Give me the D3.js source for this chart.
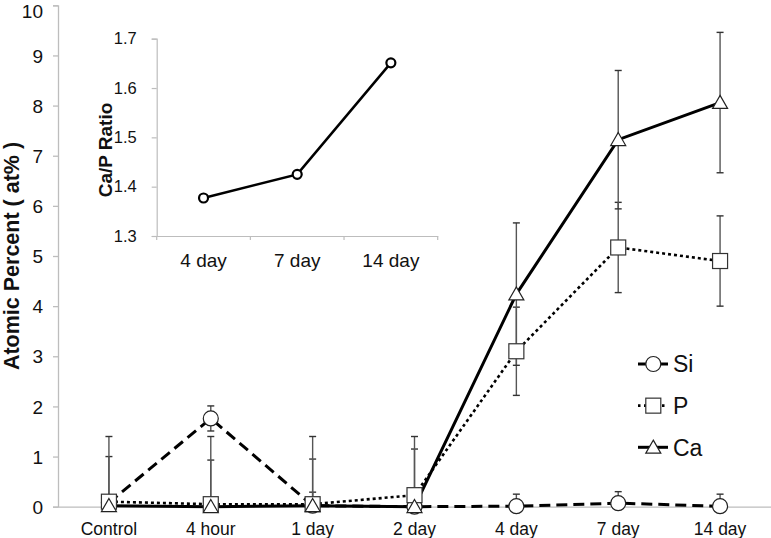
<!DOCTYPE html>
<html>
<head>
<meta charset="utf-8">
<script src="https://cdn.jsdelivr.net/npm/d3@7"></script>
<style>
  html, body { margin: 0; padding: 0; background: #fff; }
  svg { display: block; font-family: "Liberation Sans", Arial, sans-serif; }
</style>
</head>
<body>
<svg id="chart" width="771" height="538"></svg>
<script>
// ---------- data ----------
const categories = ["Control", "4 hour", "1 day", "2 day", "4 day", "7 day", "14 day"];
const siValues = [0.08, 1.76, 0.02, 0.0, 0.01, 0.07, 0.01];
const siErrors = [0.1, 0.25, 0.27, 0.1, 0.24, 0.23, 0.24];
const pValues  = [0.1, 0.05, 0.05, 0.23, 3.1, 5.17, 4.9];
const pErrors  = [0.9, 0.88, 0.9, 0.92, 0.88, 0.9, 0.9];
const caValues = [0.02, 0.0, 0.02, 0.0, 4.24, 7.32, 8.06];
const caErrors = [1.38, 1.4, 1.38, 1.4, 1.42, 1.38, 1.4];
const yTicks = [0, 1, 2, 3, 4, 5, 6, 7, 8, 9, 10];
const seriesNames = ["Si", "P", "Ca"];

const insetCategories = ["4 day", "7 day", "14 day"];
const insetRatio = [1.377, 1.425, 1.651];
const insetTicks = [1.3, 1.4, 1.5, 1.6, 1.7];

// ---------- setup ----------
const svg = d3.select("#chart");
const axisColor = "#bdbdbd";

const x = d3.scaleBand().domain(categories).range([58, 771]);
const y = d3.scaleLinear().domain([0, 10]).range([506.7, 5.3]);
const cx = c => x(c) + x.bandwidth() / 2;

// y axis
const yAxis = svg.append("g").attr("transform", "translate(58,0)")
  .call(d3.axisLeft(y).tickValues(yTicks).tickSize(5).tickPadding(10).tickFormat(d3.format("d")));
yAxis.select(".domain").attr("stroke", axisColor).attr("stroke-width", 1.3);
yAxis.selectAll(".tick line").attr("stroke", axisColor).attr("stroke-width", 1.3);
yAxis.selectAll(".tick text").attr("font-size", 19).attr("fill", "#111")
  .attr("font-family", "Liberation Sans, Arial, sans-serif")
  .attr("dy", d => d === 10 ? "0.62em" : "0.35em");

// x axis
const xAxis = svg.append("g").attr("transform", `translate(0,${y(0)})`)
  .call(d3.axisBottom(x).tickSize(0).tickPadding(16));
xAxis.select(".domain").attr("stroke", axisColor).attr("stroke-width", 1.3);
xAxis.selectAll(".tick text").attr("font-size", 17.5).attr("fill", "#111")
  .attr("font-family", "Liberation Sans, Arial, sans-serif");

// y title
svg.append("text")
  .attr("transform", `translate(19,${(y(0) + y(10)) / 2}) rotate(-90)`)
  .attr("text-anchor", "middle")
  .attr("font-size", 21.5).attr("font-weight", "bold").attr("fill", "#111")
  .text("Atomic Percent ( at% )");

// ---------- series ----------
const series = [
  { name: "Si", values: siValues, errors: siErrors, dash: "11,6", width: 3, shape: "circle" },
  { name: "P",  values: pValues,  errors: pErrors,  dash: "3,3", width: 2.6, shape: "square" },
  { name: "Ca", values: caValues, errors: caErrors, dash: null, width: 3, shape: "triangle" }
];

const line = d3.line().x(d => cx(d.c)).y(d => y(d.v));

function marker(g, shape, px, py) {
  if (shape === "circle") {
    g.append("circle").attr("cx", px).attr("cy", py).attr("r", 7.5)
      .attr("fill", "#fff").attr("stroke", "#222").attr("stroke-width", 1.2);
  } else if (shape === "square") {
    g.append("rect").attr("x", px - 7.5).attr("y", py - 7.5).attr("width", 15).attr("height", 15)
      .attr("fill", "#fff").attr("stroke", "#333").attr("stroke-width", 1.2);
  } else {
    const s = 15, h = 13;
    g.append("path")
      .attr("d", `M${px},${py - h * 0.55} L${px + s / 2},${py + h * 0.45} L${px - s / 2},${py + h * 0.45} Z`)
      .attr("fill", "#fff").attr("stroke", "#222").attr("stroke-width", 1.2);
  }
}

// lines
series.forEach(s => {
  const pts = categories.map((c, i) => ({ c, v: s.values[i] }));
  svg.append("path").datum(pts)
    .attr("d", line).attr("fill", "none").attr("stroke", "#000")
    .attr("stroke-width", s.width)
    .attr("stroke-dasharray", s.dash);
});

// error bars
series.forEach(s => {
  const g = svg.append("g");
  categories.forEach((c, i) => {
    const v = s.values[i], e = s.errors[i];
    const top = y(Math.min(10, v + e)), bot = y(Math.max(0, v - e));
    const px = cx(c);
    g.append("line").attr("x1", px).attr("x2", px).attr("y1", top).attr("y2", bot)
      .attr("stroke", "#555").attr("stroke-width", 1.4);
    g.append("line").attr("x1", px - 3.5).attr("x2", px + 3.5).attr("y1", top).attr("y2", top)
      .attr("stroke", "#333").attr("stroke-width", 1.4);
    if (v - e > 0) {
      g.append("line").attr("x1", px - 3.5).attr("x2", px + 3.5).attr("y1", bot).attr("y2", bot)
        .attr("stroke", "#333").attr("stroke-width", 1.4);
    }
  });
});

// markers
series.forEach(s => {
  const g = svg.append("g");
  categories.forEach((c, i) => marker(g, s.shape, cx(c), y(s.values[i])));
});

// legend
const legY = d3.scalePoint().domain(seriesNames).range([364, 447.3]);
series.forEach(s => {
  const ly = legY(s.name);
  svg.append("line").attr("x1", 638).attr("x2", 668).attr("y1", ly).attr("y2", ly)
    .attr("stroke", "#000").attr("stroke-width", s.width)
    .attr("stroke-dasharray", s.name === "P" ? "2.5,3.5" : null);
  marker(svg, s.shape, 653.3, ly);
  svg.append("text").attr("x", 673).attr("y", ly).attr("dy", "0.36em")
    .attr("font-size", 23).attr("fill", "#111").text(s.name);
});

// ---------- inset ----------
const ix = d3.scaleBand().domain(insetCategories).range([156.7, 437.7]);
const iy = d3.scaleLinear().domain([1.3, 1.7]).range([236, 38.7]);
const icx = c => ix(c) + ix.bandwidth() / 2;

const iyAxis = svg.append("g").attr("transform", "translate(156.7,0)")
  .call(d3.axisLeft(iy).tickValues(insetTicks).tickSize(5).tickPadding(15).tickFormat(d3.format(".1f")));
iyAxis.select(".domain").attr("stroke", axisColor).attr("stroke-width", 1.2);
iyAxis.selectAll(".tick line").attr("stroke", axisColor).attr("stroke-width", 1.2);
iyAxis.selectAll(".tick text").attr("font-size", 16.5).attr("fill", "#111")
  .attr("font-family", "Liberation Sans, Arial, sans-serif");

const ixAxis = svg.append("g").attr("transform", `translate(0,${iy(1.3)})`)
  .call(d3.axisBottom(ix).tickSize(0).tickPadding(18));
ixAxis.select(".domain").attr("stroke", axisColor).attr("stroke-width", 1.2);
ixAxis.selectAll(".tick text").attr("font-size", 19).attr("fill", "#111")
  .attr("font-family", "Liberation Sans, Arial, sans-serif");
// band boundary ticks
ixAxis.selectAll(".bnd").data(insetCategories.concat(["_end"])).enter().append("line")
  .attr("x1", (d, i) => i < insetCategories.length ? ix(d) : ix.range()[1])
  .attr("x2", (d, i) => i < insetCategories.length ? ix(d) : ix.range()[1])
  .attr("y1", 0).attr("y2", 4).attr("stroke", axisColor).attr("stroke-width", 1.2);

svg.append("text")
  .attr("transform", `translate(112,150) rotate(-90)`)
  .attr("text-anchor", "middle")
  .attr("font-size", 19).attr("font-weight", "bold").attr("fill", "#111")
  .text("Ca/P Ratio");

const ipts = insetCategories.map((c, i) => ({ c, v: insetRatio[i] }));
svg.append("path").datum(ipts)
  .attr("d", d3.line().x(d => icx(d.c)).y(d => iy(d.v)))
  .attr("fill", "none").attr("stroke", "#000").attr("stroke-width", 2.5);
svg.append("g").selectAll("circle").data(ipts).enter().append("circle")
  .attr("cx", d => icx(d.c)).attr("cy", d => iy(d.v)).attr("r", 4.5)
  .attr("fill", "#fff").attr("stroke", "#000").attr("stroke-width", 2.2);
</script>
</body>
</html>
